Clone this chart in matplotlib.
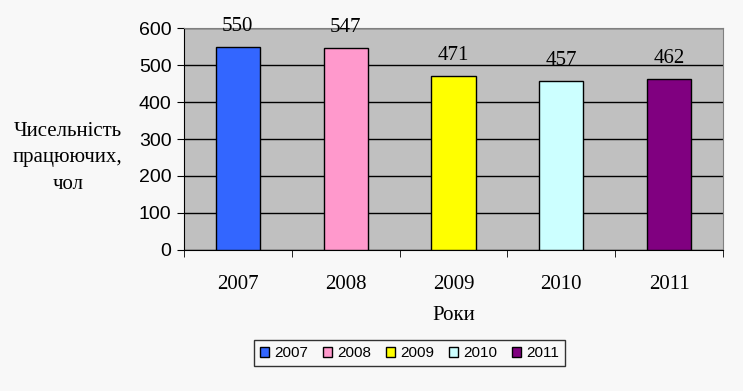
import matplotlib.pyplot as plt
import numpy as np

years = ["2007", "2008", "2009", "2010", "2011"]
workers = [550, 547, 471, 457, 462]
colors = ["#3366ff", "#ff99cc", "#ffff00", "#ccffff", "#800080"]

fig = plt.figure(figsize=(7.43, 3.91), dpi=100, facecolor="#f8f8f8")
ax = fig.add_axes([0.2476, 0.361, 0.7255, 0.567])
ax.set_facecolor("#c0c0c0")

x = np.arange(len(years))
bars = ax.bar(x, workers, width=0.41, color=colors, edgecolor="black", linewidth=1, zorder=3, label=years)

# value labels
for xi, v in zip(x, workers):
    ax.annotate(str(v), (xi, v), xytext=(0, 8), textcoords="offset points",
                ha="center", va="bottom", fontsize=15, family="Liberation Serif")

ax.set_xlim(-0.5, len(years) - 0.5)
ax.set_ylim(0, 600)
ax.set_yticks(range(0, 601, 100))
ax.yaxis.grid(True, color="black", linewidth=1, zorder=0)
ax.set_axisbelow(True)

ax.set_xticks(x)
ax.set_xticklabels(years, fontsize=15, family="Liberation Serif")
ax.set_xticks(np.arange(-0.5, len(years), 1), minor=True)
ax.tick_params(axis="x", which="major", length=0, pad=18)
ax.tick_params(axis="x", which="minor", length=5, direction="out", color="black")
ax.tick_params(axis="y", length=5, direction="out", labelsize=14, pad=4)
for lab in ax.get_yticklabels():
    lab.set_family("Liberation Sans")

ax.spines["left"].set_color("black")
ax.spines["bottom"].set_color("black")
ax.spines["top"].set_color("#808080")
ax.spines["right"].set_color("#808080")

ax.set_xlabel("Роки", fontsize=15, family="Liberation Serif", labelpad=9)
fig.text(0.0915, 0.596, "Чисельність\nпрацюючих,\nчол", ha="center", va="center",
         fontsize=15, family="Liberation Serif", linespacing=1.55)

leg = fig.legend(handles=bars, labels=years, loc="center", bbox_to_anchor=(0.551, 0.097), ncol=5,
                 frameon=True, fancybox=False, edgecolor="black", facecolor="#f8f8f8",
                 prop={"family": "Liberation Sans", "size": 11}, handlelength=0.6, handleheight=0.6,
                 handletextpad=0.35, columnspacing=0.95, borderpad=0.4)
leg.get_frame().set_linewidth(1)

fig.savefig("out.png", dpi=100, facecolor=fig.get_facecolor())
